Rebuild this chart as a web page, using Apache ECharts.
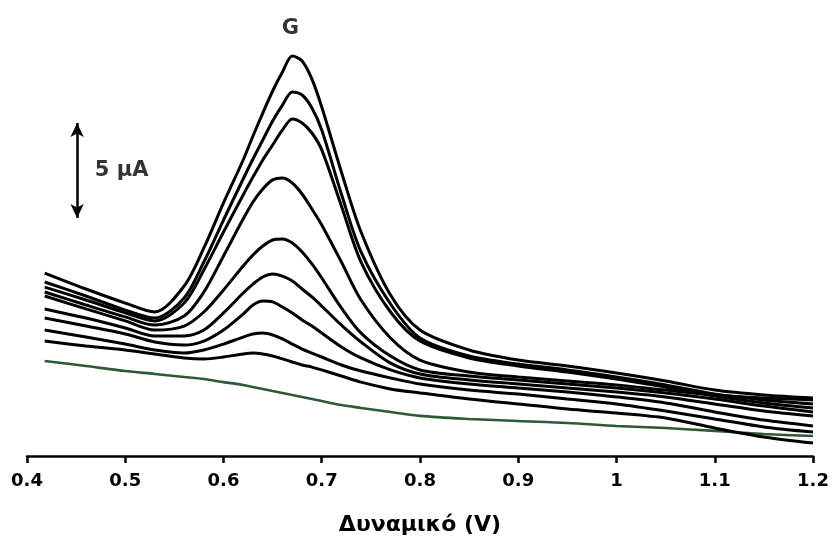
<!DOCTYPE html>
<html>
<head>
<meta charset="utf-8">
<script src="https://cdn.jsdelivr.net/npm/echarts@6/dist/echarts.min.js"></script>
<style>
  html, body { margin: 0; padding: 0; background: #fff; }
  #chart { width: 833px; height: 543px; }
</style>
</head>
<body>
<div id="chart"></div>
<script>
// Potential (V) at which each voltammogram is sampled
const potential = [0.418, 0.46, 0.5, 0.53, 0.56, 0.58, 0.6, 0.62, 0.63, 0.64, 0.65, 0.66, 0.67, 0.68,
                   0.69, 0.7, 0.72, 0.74, 0.77, 0.8, 0.85, 0.9, 0.95, 1.0, 1.05, 1.1, 1.15, 1.2];

// Current (µA, offset scale) for each concentration, highest first
const curve1 = [9.63, 8.79, 8.05, 7.58, 8.95, 10.95, 13.32, 15.58, 16.84, 18.05, 19.21, 20.21, 21.05, 20.79, 19.84, 18.37, 14.95, 11.79, 8.47, 6.63, 5.58, 5.05, 4.74, 4.37, 3.95, 3.47, 3.21, 3.05];
const curve2 = [9.16, 8.42, 7.68, 7.26, 8.32, 10.21, 12.42, 14.58, 15.63, 16.63, 17.63, 18.47, 19.16, 19.0, 18.32, 17.16, 13.79, 10.74, 8.0, 6.21, 5.26, 4.84, 4.53, 4.16, 3.74, 3.26, 2.95, 2.74];
const curve3 = [8.89, 8.21, 7.53, 7.11, 8.05, 9.79, 11.79, 13.74, 14.68, 15.58, 16.37, 17.16, 17.74, 17.53, 17.0, 16.11, 13.16, 10.21, 7.58, 6.05, 5.16, 4.74, 4.42, 4.05, 3.63, 3.16, 2.79, 2.53];
const curve4 = [8.63, 7.95, 7.32, 6.89, 7.37, 8.63, 10.53, 12.47, 13.37, 14.05, 14.53, 14.63, 14.37, 13.79, 13.0, 12.16, 10.21, 8.21, 6.21, 5.05, 4.42, 4.16, 3.95, 3.74, 3.47, 3.21, 3.05, 2.95];
const curve5 = [8.42, 7.74, 7.11, 6.63, 6.84, 7.58, 8.74, 10.0, 10.58, 11.05, 11.37, 11.42, 11.21, 10.74, 10.11, 9.37, 7.79, 6.47, 5.26, 4.53, 4.21, 4.0, 3.79, 3.58, 3.32, 3.0, 2.63, 2.32];
const curve6 = [7.74, 7.26, 6.74, 6.32, 6.32, 6.63, 7.53, 8.58, 9.05, 9.42, 9.58, 9.47, 9.21, 8.79, 8.37, 7.89, 6.89, 6.0, 4.89, 4.32, 4.0, 3.79, 3.58, 3.37, 3.11, 2.74, 2.37, 2.11];
const curve7 = [7.26, 6.84, 6.42, 6.0, 5.84, 6.05, 6.63, 7.47, 7.95, 8.16, 8.11, 7.84, 7.53, 7.16, 6.84, 6.47, 5.74, 5.16, 4.53, 4.11, 3.79, 3.58, 3.37, 3.11, 2.79, 2.32, 1.89, 1.58];
const curve8 = [6.63, 6.26, 5.89, 5.58, 5.42, 5.58, 5.89, 6.26, 6.42, 6.47, 6.37, 6.16, 5.89, 5.63, 5.42, 5.21, 4.79, 4.47, 4.11, 3.79, 3.47, 3.26, 3.0, 2.74, 2.37, 1.95, 1.53, 1.26];
const curve9 = [6.05, 5.79, 5.58, 5.37, 5.16, 5.11, 5.21, 5.37, 5.42, 5.37, 5.26, 5.11, 4.95, 4.79, 4.68, 4.53, 4.21, 3.89, 3.53, 3.32, 3.0, 2.74, 2.47, 2.26, 2.0, 1.47, 1.0, 0.68];
// Supporting electrolyte only
const blank = [5.0, 4.74, 4.47, 4.32, 4.16, 4.05, 3.89, 3.74, 3.63, 3.53, 3.42, 3.32, 3.21, 3.11, 3.0, 2.89, 2.68, 2.53, 2.32, 2.11, 1.95, 1.84, 1.74, 1.58, 1.47, 1.32, 1.16, 1.05];

const sampleCurves = [curve1, curve2, curve3, curve4, curve5, curve6, curve7, curve8, curve9];

// Scale bar: 5 µA, and peak label
const scaleBarX = 0.451;
const scaleBarFrom = 12.53;
const scaleBarSpan = 5;
const scaleBarText = '5 µA';
const peakLabel = { text: 'G', x: 0.668, y: 22.5 };

const xTickLabels = ['0.4', '0.5', '0.6', '0.7', '0.8', '0.9', '1', '1.1', '1.2'];

const font = 'DejaVu Sans';
const pairs = ys => potential.map((x, i) => [x, ys[i]]);

const series = [];
series.push({
  type: 'line', data: pairs(blank), showSymbol: false, smooth: 0.3, clip: false,
  lineStyle: { color: '#2b5a34', width: 2.6 }, z: 2
});
sampleCurves.forEach(c => series.push({
  type: 'line', data: pairs(c), showSymbol: false, smooth: 0.3, clip: false,
  lineStyle: { color: '#000', width: 3 }, z: 3
}));

// scale bar with arrow heads at both ends
series.push({
  type: 'line', data: [], silent: true,
  markLine: {
    silent: true, symbol: ['arrow', 'arrow'], symbolSize: [10, 14],
    lineStyle: { color: '#000', width: 2.5, type: 'solid' },
    label: { show: false },
    data: [[{ coord: [scaleBarX, scaleBarFrom] }, { coord: [scaleBarX, scaleBarFrom + scaleBarSpan] }]]
  }
});
series.push({
  type: 'scatter', symbolSize: 0, silent: true,
  data: [[0.469, scaleBarFrom + scaleBarSpan / 2]],
  label: { show: true, position: 'right', distance: 0, formatter: scaleBarText,
           fontFamily: font, fontWeight: 'bold', fontSize: 21, color: '#000' }
});
series.push({
  type: 'scatter', symbolSize: 0, silent: true,
  data: [[peakLabel.x, peakLabel.y]],
  label: { show: true, position: 'inside', formatter: peakLabel.text,
           fontFamily: font, fontWeight: 'bold', fontSize: 21, color: '#000' }
});

const chart = echarts.init(document.getElementById('chart'), null, { renderer: 'canvas' });
chart.setOption({
  animation: false,
  backgroundColor: '#fff',
  grid: { left: 27, right: 20, top: 0, bottom: 87, containLabel: false },
  xAxis: {
    type: 'value', min: 0.4, max: 1.2, interval: 0.1,
    name: 'Δυναμικό (V)', nameLocation: 'middle', nameGap: 58,
    nameTextStyle: { fontFamily: font, fontWeight: 'bold', fontSize: 22, color: '#000' },
    axisLine: { lineStyle: { color: '#000', width: 2.5 } },
    axisTick: { show: true, length: 7, inside: false, lineStyle: { color: '#000', width: 2.5 } },
    axisLabel: {
      margin: 16, fontFamily: font, fontWeight: 'bold', fontSize: 18, color: '#000',
      formatter: v => xTickLabels[Math.round((v - 0.4) * 10)]
    },
    splitLine: { show: false }
  },
  yAxis: { type: 'value', min: 0, max: 24, show: false, splitLine: { show: false } },
  series
});
</script>
</body>
</html>
